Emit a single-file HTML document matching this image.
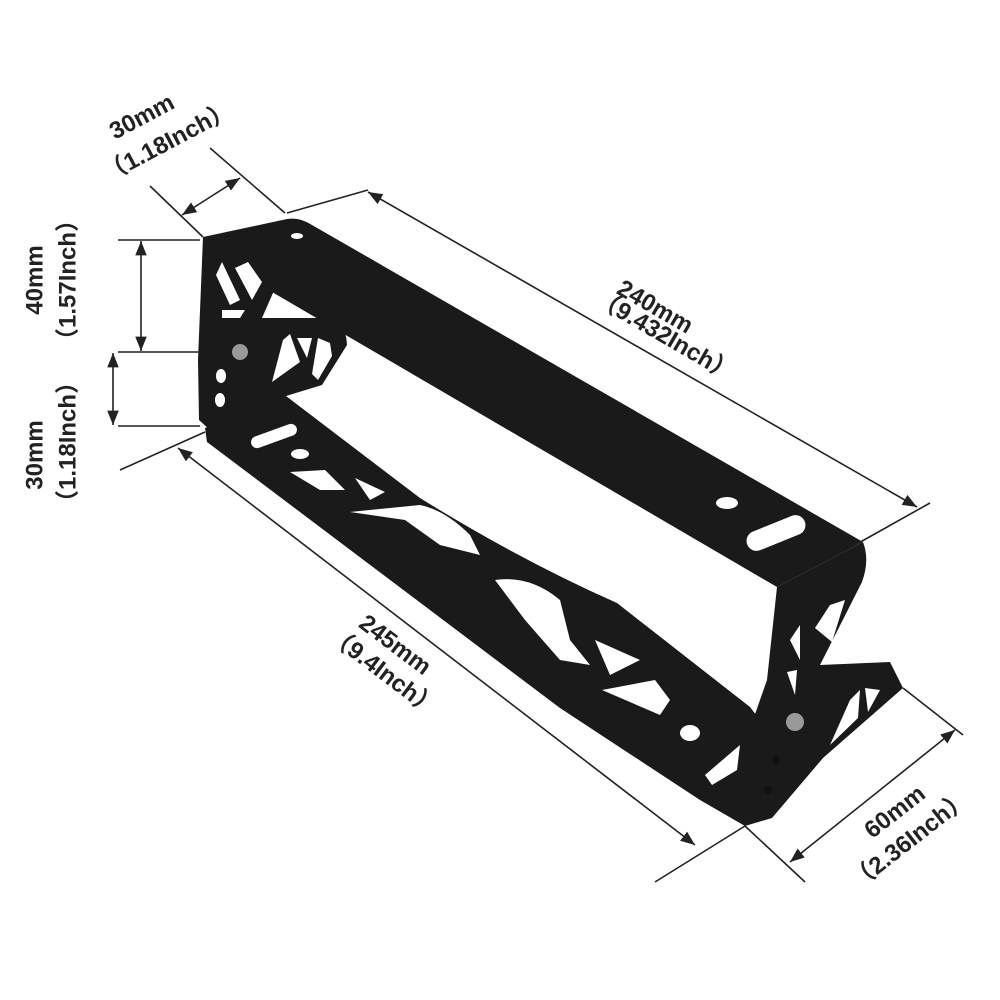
<!DOCTYPE html>
<html><head><meta charset="utf-8"><style>
html,body{margin:0;padding:0;background:#fff;}
svg{display:block}
text{font-family:"Liberation Sans","Noto Sans CJK SC",sans-serif;font-weight:bold;font-size:24px;fill:#222;text-anchor:middle;dominant-baseline:central;}
</style></head><body>
<svg width="1000" height="1000" viewBox="0 0 1000 1000" xmlns="http://www.w3.org/2000/svg">
<defs>
<marker id="a" viewBox="0 0 10 10" refX="10" refY="5" markerWidth="9" markerHeight="9" orient="auto-start-reverse"><path d="M0,1 L10,5 L0,9 Z" fill="#222"/></marker>
</defs>
<g fill="#1a1a1a">
<path d="M203,237 L287,219 Q300,217 312,225 L863,542 L777,587 L272,292 Z"/>
<path d="M203,237 L276,286 L262,318 L330,318 Q346,322 347,345 L322,385 L286,396 L210,430 L199,420 L198,360 Z"/>
<path d="M205,428 L286,396 L420,498 Q520,560 617,603 L750,707 L760,720 L745,826 L700,800 L560,708 L207,442 Z"/>
<path d="M777,587 L863,542 Q870,560 862,582 L820,665 L890,662 L903,688 L823,758 L772,818 L745,826 L753,720 L767,680 Z"/>
</g>
<g fill="#fff">
<ellipse cx="297" cy="236" rx="6" ry="3"/>
<ellipse cx="727" cy="503" rx="11" ry="6"/>
<rect x="745" y="523" width="62" height="20" rx="10" transform="rotate(-22 776 533)"/>
<path d="M216,275 L222,262 L240,300 L230,305 Z"/>
<path d="M235,268 L248,262 L262,282 L252,300 Z"/>
<path d="M222,310 L245,310 L240,318 L222,318 Z"/>
<ellipse cx="221" cy="376" rx="5" ry="7"/>
<ellipse cx="220" cy="400" rx="5" ry="7"/>
<path d="M283,340 L290,334 L300,362 L272,382 Z"/>
<path d="M297,338 L312,338 L307,358 Z"/>
<path d="M318,338 L330,343 L332,356 L318,380 L312,374 Z"/>
<rect x="250" y="430" width="48" height="12" rx="6" transform="rotate(-20 274 436)"/>
<ellipse cx="300" cy="454" rx="9" ry="5"/>
<path d="M290,472 L325,470 L345,490 L320,490 Z"/>
<path d="M355,478 L385,492 L370,500 Z"/>
<path d="M350,512 L420,505 Q445,510 470,535 L480,555 L440,545 L405,520 Z"/>
<path d="M495,580 Q530,575 560,600 L570,640 L590,665 L560,660 L525,620 Z"/>
<path d="M595,640 L640,660 L610,675 Z"/>
<path d="M602,690 L655,680 L670,700 L660,715 Z"/>
<ellipse cx="690" cy="733" rx="10" ry="8"/>
<path d="M705,775 L740,745 L737,770 L712,785 Z"/>
<path d="M830,605 L845,600 L832,642 L815,628 Z"/>
<path d="M790,640 L800,625 L800,660 Z"/>
<path d="M787,672 L797,670 L795,695 Z"/>
<path d="M850,700 L860,690 L858,718 L830,745 Z"/>
<path d="M865,688 L880,690 L868,712 Z"/>
</g>
<g fill="#999"><circle cx="240" cy="352" r="8"/><circle cx="795" cy="722" r="9"/></g>
<g fill="#111"><circle cx="776" cy="760" r="4"/><circle cx="768" cy="790" r="4"/></g>
<g stroke="#222" stroke-width="1.6" fill="none">
<line x1="150" y1="186" x2="203" y2="237"/>
<line x1="210" y1="148" x2="285" y2="213"/>
<line x1="182" y1="215" x2="240" y2="178" marker-start="url(#a)" marker-end="url(#a)"/>
<line x1="118" y1="240" x2="200" y2="240"/>
<line x1="118" y1="352" x2="200" y2="352"/>
<line x1="118" y1="426" x2="200" y2="426"/>
<line x1="141" y1="241" x2="141" y2="351" marker-start="url(#a)" marker-end="url(#a)"/>
<line x1="113" y1="353" x2="113" y2="425" marker-start="url(#a)" marker-end="url(#a)"/>
<line x1="287" y1="213" x2="368" y2="190"/>
<line x1="368" y1="192" x2="917" y2="507" marker-start="url(#a)" marker-end="url(#a)"/>
<line x1="855" y1="545" x2="930" y2="503"/>
<line x1="120" y1="470" x2="205" y2="432"/>
<line x1="178" y1="448" x2="695" y2="845" marker-start="url(#a)" marker-end="url(#a)"/>
<line x1="655" y1="882" x2="745" y2="826"/>
<line x1="745" y1="826" x2="805" y2="882"/>
<line x1="903" y1="688" x2="963" y2="735"/>
<line x1="790" y1="862" x2="955" y2="730" marker-start="url(#a)" marker-end="url(#a)"/>
</g>
<text transform="translate(142,117) rotate(-28)">30mm</text>
<text transform="translate(168,142) rotate(-28)">（1.18Inch）</text>
<text transform="translate(35,280) rotate(-90)">40mm</text>
<text transform="translate(68,280) rotate(-90)">（1.57Inch）</text>
<text transform="translate(35,455) rotate(-90)">30mm</text>
<text transform="translate(68,442) rotate(-90)">（1.18Inch）</text>
<text transform="translate(655,307) rotate(30)">240mm</text>
<text transform="translate(665,336) rotate(30)">（9.432Inch）</text>
<text transform="translate(395,645) rotate(37)">245mm</text>
<text transform="translate(383,672) rotate(37)">（9.4Inch）</text>
<text transform="translate(895,812) rotate(-38)">60mm</text>
<text transform="translate(910,840) rotate(-38)">（2.36Inch）</text>
</svg>
</body></html>
